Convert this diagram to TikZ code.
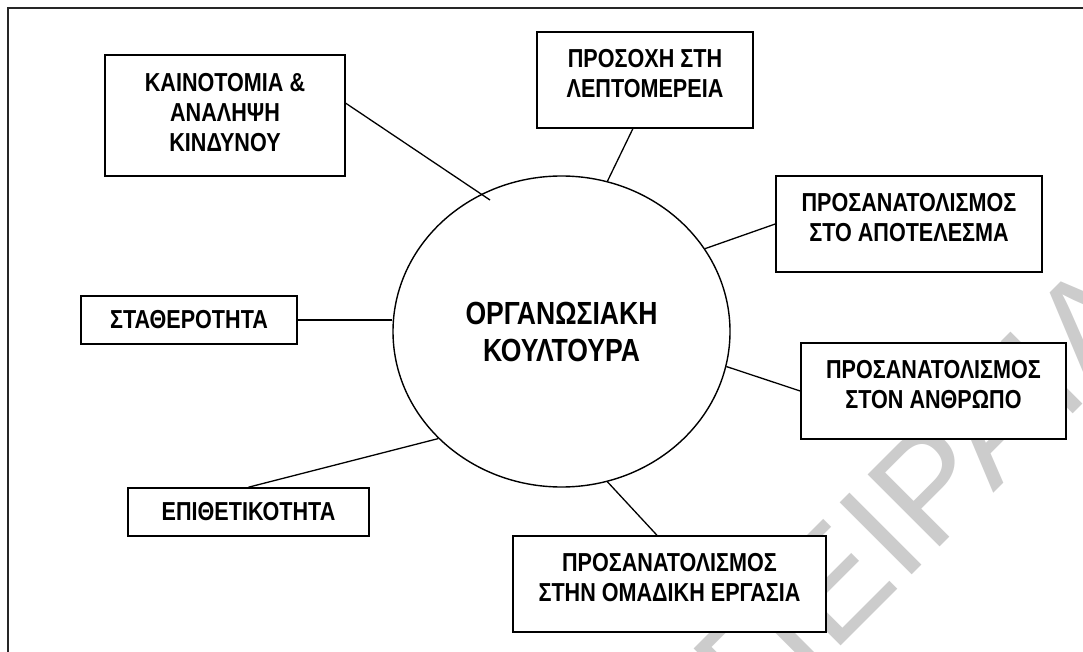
\documentclass[tikz,border=0pt]{standalone}
\usepackage{fontspec}
\setmainfont{Liberation Sans}
\newfontfamily\lblfont{Liberation Sans}[FakeStretch=0.83]
\newfontfamily\wmfont{Liberation Sans}
\usetikzlibrary{shapes.geometric,calc}

\tikzset{
  card/.style={draw=black, line width=1.6pt, fill=white, rectangle, inner sep=0pt,
    align=center, font=\lblfont\bfseries\fontsize{26}{30}\selectfont},
  twoline/.style={text depth=14pt},
  hub/.style={draw=black, line width=1.4pt, fill=white, ellipse, inner sep=0pt,
    align=center, font=\lblfont\bfseries\fontsize{32}{37}\selectfont},
  link/.style={draw=black, line width=1.3pt},
  frameline/.style={draw=black!85, line width=2.4pt},
  stamp/.style={text=black!20, inner sep=0pt, font=\wmfont\fontsize{148}{148}\selectfont}
}

\begin{document}
\begin{tikzpicture}[x=1pt,y=-1pt]
  \useasboundingbox (0,0) rectangle (1083,652);
  \clip (0,0) rectangle (1083,652);
  \fill[white] (0,0) rectangle (1083,652);

  % page frame (runs past the right and bottom edges)
  \draw[frameline] (8,670) -- (8,8) -- (1100,8);

  % background stamp
  \node[stamp, rotate=45, anchor=base west] (wm) at (757,730) {ΠΕΙΡΑΙΑ};

  % central ellipse
  \node[hub, minimum width=337pt, minimum height=311pt] (org) at (561.5,331.5)
    {ΟΡΓΑΝΩΣΙΑΚΗ\\ΚΟΥΛΤΟΥΡΑ};

  % surrounding boxes
  \node[card, text depth=7pt, minimum width=240pt, minimum height=121pt] (b1) at (225,115.5)
    {ΚΑΙΝΟΤΟΜΙΑ \&\\ΑΝΑΛΗΨΗ\\ΚΙΝΔΥΝΟΥ};
  \node[card, twoline, minimum width=216pt, minimum height=96pt] (b2) at (645,80)
    {ΠΡΟΣΟΧΗ ΣΤΗ\\ΛΕΠΤΟΜΕΡΕΙΑ};
  \node[card, twoline, minimum width=266pt, minimum height=96pt] (b3) at (909,224)
    {ΠΡΟΣΑΝΑΤΟΛΙΣΜΟΣ\\ΣΤΟ ΑΠΟΤΕΛΕΣΜΑ};
  \node[card, twoline, minimum width=265pt, minimum height=96pt] (b4) at (933.5,391)
    {ΠΡΟΣΑΝΑΤΟΛΙΣΜΟΣ\\ΣΤΟΝ ΑΝΘΡΩΠΟ};
  \node[card, twoline, minimum width=313pt, minimum height=96pt] (b5) at (669.5,584)
    {ΠΡΟΣΑΝΑΤΟΛΙΣΜΟΣ\\ΣΤΗΝ ΟΜΑΔΙΚΗ ΕΡΓΑΣΙΑ};
  \node[card, minimum width=216pt, minimum height=48pt] (b6) at (189,320)
    {ΣΤΑΘΕΡΟΤΗΤΑ};
  \node[card, minimum width=241pt, minimum height=48pt] (b7) at (248.5,512)
    {ΕΠΙΘΕΤΙΚΟΤΗΤΑ};

  % connectors
  \coordinate (k1) at (490,200);
  \draw[link] ($(b1.north east)!0.40!(b1.south east)$) -- (k1);
  \draw[link] ($(b2.south west)!0.444!(b2.south east)$) -- (org.73);
  \draw[link] (b3.west) -- (org.30.5);
  \draw[link] (b4.west) -- (org.-12.3);
  \draw[link] ($(b5.north west)!0.46!(b5.north east)$) -- (org.-73.5);
  \draw[link] (b6.east) -- (b6.east -| org.west);
  \draw[link] (b7.north) -- (org.221.8);
\end{tikzpicture}
\end{document}
